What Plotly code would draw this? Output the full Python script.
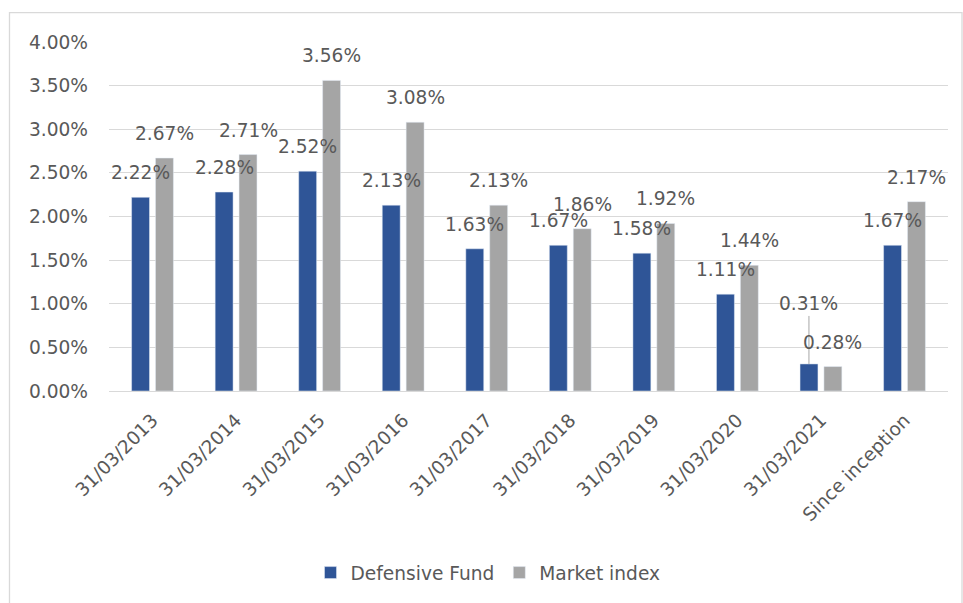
import plotly.graph_objects as go

categories = ["31/03/2013", "31/03/2014", "31/03/2015", "31/03/2016", "31/03/2017",
              "31/03/2018", "31/03/2019", "31/03/2020", "31/03/2021", "Since inception"]
fund = [2.22, 2.28, 2.52, 2.13, 1.63, 1.67, 1.58, 1.11, 0.31, 1.67]
market = [2.67, 2.71, 3.56, 3.08, 2.13, 1.86, 1.92, 1.44, 0.28, 2.17]
yticks = [0, 0.5, 1.0, 1.5, 2.0, 2.5, 3.0, 3.5, 4.0]

BLUE = "#2F5597"
GRAY = "#A5A5A5"
TXT = "#595959"
GRID = "#D9D9D9"
FONT = "DejaVu Sans"
FS = 18.6

W, H = 963, 603
L, R, T, B = 109, 15, 42, 212

fig = go.Figure()
fig.add_trace(go.Bar(name="Defensive Fund", x=categories, y=fund, marker_color=BLUE))
fig.add_trace(go.Bar(name="Market index", x=categories, y=market, marker_color=GRAY))

annotations = []
for series, vals, shift in (("fund", fund, -12), ("market", market, 12)):
    for c, v in zip(categories, vals):
        txt = f"{v:.2f}%"
        if series == "fund" and c == "31/03/2021":
            annotations.append(dict(x=c, y=v, xref="x", yref="y", text=txt, xshift=shift,
                                    showarrow=True, ax=0, ay=-60, arrowhead=0, arrowwidth=1,
                                    arrowcolor="#A6A6A6", standoff=0,
                                    font=dict(family=FONT, size=FS, color=TXT)))
        else:
            annotations.append(dict(x=c, y=v, xref="x", yref="y", text=txt, xshift=shift,
                                    yshift=24.5, yanchor="middle", showarrow=False,
                                    font=dict(family=FONT, size=FS, color=TXT)))

pw = W - L - R
ph = H - T - B
shapes = [dict(type="rect", xref="paper", yref="paper",
               x0=(9.5 - L) / pw, x1=(962 - L) / pw,
               y0=-(606 - (H - B)) / ph,
               y1=((H - B) - 12.7) / ph,
               line=dict(color=GRID, width=1.3), fillcolor="rgba(0,0,0,0)", layer="below")]

fig.update_layout(
    width=W, height=H,
    margin=dict(l=L, r=R, t=T, b=B, autoexpand=False),
    paper_bgcolor="white", plot_bgcolor="white",
    barmode="group", bargap=0.428, bargroupgap=0.25,
    font=dict(family=FONT, size=FS, color=TXT),
    showlegend=True,
    legend=dict(orientation="h", x=(488 - L) / pw, xanchor="center",
                y=-(573 - (H - B)) / ph, yanchor="middle",
                font=dict(family=FONT, size=FS, color=TXT), itemclick=False),
    annotations=annotations,
    shapes=shapes,
    xaxis=dict(type="category", tickangle=-45, showgrid=False, showline=True,
               linecolor=GRID, linewidth=1.3, ticks="", automargin=False,
               ticklabelstandoff=10,
               tickfont=dict(family=FONT, size=FS, color=TXT)),
    yaxis=dict(range=[0, 4], tickvals=yticks, ticktext=[f"{t:.2f}%" for t in yticks],
               showgrid=True, gridcolor=GRID, gridwidth=1.3, zeroline=False,
               showline=False, ticks="", automargin=False, ticklabelstandoff=20,
               tickfont=dict(family=FONT, size=FS, color=TXT)),
)

fig.write_html("out.html")
